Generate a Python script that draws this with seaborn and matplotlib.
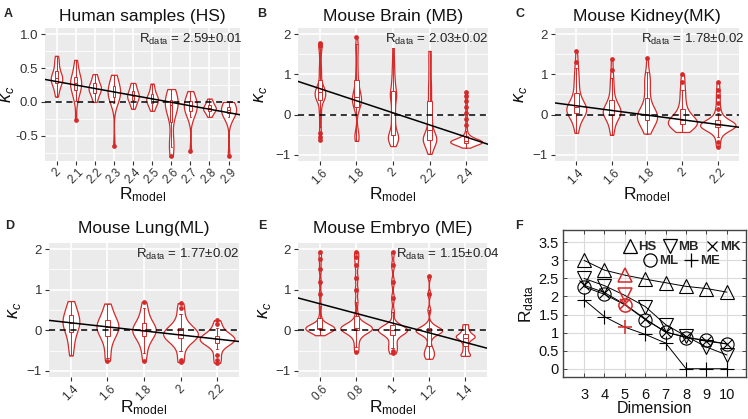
import matplotlib
matplotlib.use("Agg")
import matplotlib.pyplot as plt
from matplotlib.lines import Line2D
from matplotlib.ticker import FuncFormatter
import numpy as np
import pandas as pd
import seaborn as sns

RED = "#D42A2A"
BG = "#EBEBEB"

# ---- A: human samples (HS)
hs_rmodel = ["2", "2.1", "2.2", "2.3", "2.4", "2.5", "2.6", "2.7", "2.8", "2.9"]
hs_kappa = [
    [0.08, 0.12, 0.18, 0.22, 0.26, 0.28, 0.30, 0.31, 0.33, 0.34, 0.35, 0.36, 0.38, 0.40, 0.42, 0.45, 0.50, 0.55, 0.60, 0.64, 0.68],
    [-0.27, 0.02, 0.08, 0.14, 0.19, 0.22, 0.25, 0.27, 0.28, 0.30, 0.32, 0.35, 0.40, 0.46, 0.53, 0.62],
    [0.0, 0.05, 0.10, 0.13, 0.16, 0.18, 0.20, 0.21, 0.23, 0.25, 0.28, 0.32, 0.37, 0.41],
    [-0.65, -0.02, 0.03, 0.07, 0.10, 0.12, 0.14, 0.15, 0.17, 0.20, 0.24, 0.30, 0.36, 0.40],
    [-0.10, -0.04, 0.0, 0.03, 0.06, 0.08, 0.09, 0.11, 0.13, 0.16, 0.20, 0.25, 0.28],
    [-0.13, -0.08, -0.04, -0.01, 0.01, 0.03, 0.04, 0.06, 0.08, 0.11, 0.15, 0.21, 0.27],
    [-0.80, -0.66, -0.60, -0.56, -0.20, -0.14, -0.09, -0.06, -0.04, -0.02, 0.0, 0.02, 0.05, 0.09, 0.14, 0.19],
    [-0.73, -0.22, -0.17, -0.13, -0.10, -0.08, -0.06, -0.04, -0.02, 0.01, 0.05, 0.10, 0.16],
    [-0.22, -0.18, -0.15, -0.12, -0.11, -0.10, -0.09, -0.07, -0.05, -0.02, 0.01, 0.05],
    [-0.80, -0.22, -0.19, -0.16, -0.14, -0.13, -0.12, -0.10, -0.08, -0.05, -0.02, 0.0],
]
hs_rdata, hs_err, hs_slope = 2.59, 0.01, -0.51

# ---- B: mouse brain (MB)
mb_rmodel = ["1.6", "1.8", "2", "2.2", "2.4"]
mb_kappa = [
    [-0.62, -0.55, -0.45, -0.3, -0.15, 0.0, 0.1, 0.2,
     0.3, 0.35, 0.38, 0.4, 0.42, 0.44, 0.46, 0.48, 0.5, 0.52, 0.54, 0.56, 0.58, 0.6, 0.62, 0.64, 0.66, 0.7, 0.74, 0.78,
     0.9, 1.0, 1.1, 1.2, 1.35, 1.5, 1.62, 1.7, 1.75, 1.78],
    [-0.65, -0.6, -0.55, -0.5, -0.45, -0.3,
     0.05, 0.12, 0.18, 0.22, 0.26, 0.3, 0.32, 0.35, 0.37, 0.4, 0.42, 0.45, 0.48, 0.52, 0.56, 0.6, 0.65, 0.7, 0.78, 0.87,
     1.0, 1.1, 1.25, 1.4, 1.55, 1.68, 1.75, 1.93],
    [-0.78, -0.72, -0.68, -0.64, -0.6, -0.57, -0.55, -0.52, -0.5, -0.45, -0.38, -0.3, -0.2, -0.1, 0.0,
     0.1, 0.2, 0.3, 0.4, 0.45, 0.5, 0.55, 0.6, 0.7, 0.8, 0.9, 1.05, 1.2, 1.4, 1.65],
    [-0.97, -0.9, -0.82, -0.76, -0.72, -0.68, -0.65, -0.62, -0.6, -0.58, -0.56, -0.53, -0.5, -0.45, -0.38,
     -0.3, -0.2, -0.1, 0.0, 0.1, 0.2, 0.35, 0.5, 0.65, 0.8, 1.0, 1.2, 1.4, 1.58],
    [-0.82, -0.79, -0.77, -0.75, -0.74, -0.73, -0.72, -0.71, -0.7, -0.7, -0.69, -0.69, -0.68, -0.68, -0.67,
     -0.67, -0.67, -0.66, -0.66, -0.65, -0.65, -0.64, -0.63, -0.62, -0.61, -0.6, -0.58, -0.56, -0.53, -0.5,
     -0.4, -0.25, -0.1, 0.05, 0.2, 0.35, 0.47, 0.57],
]
mb_rdata, mb_err, mb_slope = 2.03, 0.02, -1.5

# ---- C: mouse kidney (MK)
mk_rmodel = ["1.4", "1.6", "1.8", "2", "2.2"]
mk_kappa = [
    [-0.45, -0.35, -0.25, -0.15, -0.08, -0.03, 0.0, 0.03, 0.05, 0.07, 0.09, 0.1, 0.12, 0.14, 0.15, 0.17,
     0.19, 0.22, 0.25, 0.28, 0.31, 0.36, 0.42, 0.5, 0.6, 0.7, 0.8, 0.9, 1.02, 1.15, 1.3, 1.58],
    [-0.5, -0.4, -0.3, -0.2, -0.12, -0.07, -0.03, -0.01, 0.01, 0.03, 0.05, 0.06, 0.08, 0.1, 0.12, 0.14,
     0.17, 0.2, 0.23, 0.28, 0.34, 0.42, 0.52, 0.65, 0.78, 0.9, 1.1, 1.38],
    [-0.47, -0.4, -0.33, -0.27, -0.22, -0.18, -0.15, -0.12, -0.1, -0.07, -0.05, -0.03, -0.01, 0.01, 0.04,
     0.07, 0.1, 0.14, 0.2, 0.28, 0.38, 0.5, 0.62, 0.75, 0.85, 0.95, 1.05, 1.4],
    [-0.43, -0.38, -0.34, -0.31, -0.28, -0.26, -0.24, -0.22, -0.2, -0.19, -0.17, -0.15, -0.13, -0.11,
     -0.08, -0.05, 0.0, 0.06, 0.14, 0.24, 0.35, 0.5, 0.62, 0.8, 1.0],
    [-0.8, -0.68, -0.55, -0.45, -0.38, -0.34, -0.32, -0.31, -0.3, -0.29, -0.28, -0.28, -0.27, -0.27, -0.26,
     -0.26, -0.25, -0.24, -0.23, -0.22, -0.2, -0.18, -0.15, -0.1, -0.03, 0.05, 0.15, 0.3, 0.45, 0.6, 0.8],
]
mk_rdata, mk_err, mk_slope = 1.78, 0.02, -0.58

# ---- D: mouse lung (ML)
ml_rmodel = ["1.4", "1.6", "1.8", "2", "2.2"]
ml_kappa = [
    [-0.62, -0.45, -0.3, -0.18, -0.08, 0.0, 0.06, 0.11, 0.15, 0.19, 0.22, 0.26, 0.3, 0.35, 0.41, 0.48, 0.56, 0.64, 0.72],
    [-0.75, -0.68, -0.45, -0.3, -0.2, -0.12, -0.06, -0.01, 0.03, 0.06, 0.09, 0.11, 0.14, 0.18, 0.23, 0.29, 0.36, 0.45, 0.55, 0.66],
    [-0.75, -0.55, -0.38, -0.27, -0.19, -0.13, -0.08, -0.04, -0.02, 0.0, 0.02, 0.04, 0.07, 0.11, 0.16, 0.23, 0.32, 0.42, 0.55, 0.7],
    [-0.78, -0.72, -0.5, -0.35, -0.27, -0.22, -0.18, -0.15, -0.13, -0.11, -0.1, -0.09, -0.08, -0.06, -0.04, -0.01, 0.03, 0.08, 0.15, 0.25, 0.4, 0.55, 0.67],
    [-0.8, -0.72, -0.6, -0.45, -0.36, -0.31, -0.28, -0.26, -0.24, -0.23, -0.22, -0.21, -0.2, -0.18, -0.16, -0.13, -0.09, -0.03, 0.05, 0.15, 0.25],
]
ml_rdata, ml_err, ml_slope = 1.77, 0.02, -0.5

# ---- E: mouse embryo (ME)
me_rmodel = ["0.6", "0.8", "1", "1.2", "1.4"]
me_kappa = [
    [-0.12, -0.07, -0.03, 0.0, 0.02, 0.03, 0.04, 0.04, 0.05, 0.05, 0.05, 0.06, 0.06, 0.07, 0.08, 0.09, 0.11, 0.14, 0.19,
     0.35, 0.6, 0.9, 1.2, 1.5, 1.75, 1.93],
    [-0.53, -0.4, -0.25, -0.14, -0.08, -0.03, 0.0, 0.02, 0.03, 0.04, 0.05, 0.05, 0.06, 0.07, 0.08, 0.1, 0.13, 0.17,
     0.22, 0.4, 0.7, 1.0, 1.3, 1.6, 1.8, 1.93],
    [-0.57, -0.5, -0.43, -0.36, -0.28, -0.17, -0.1, -0.06, -0.03, -0.01, 0.0, 0.0, 0.01, 0.02, 0.03,
     0.05, 0.08, 0.12, 0.18, 0.45, 0.8, 1.2, 1.6, 1.93],
    [-0.7, -0.65, -0.6, -0.55, -0.5, -0.45, -0.35, -0.2, -0.12, -0.08, -0.05, -0.03, -0.02, -0.01, 0.0, 0.01,
     0.02, 0.04, 0.07, 0.11, 0.17, 0.5, 0.9, 1.33],
    [-0.63, -0.6, -0.55, -0.48, -0.4, -0.32, -0.26, -0.22, -0.19, -0.17, -0.15, -0.13, -0.11, -0.08, -0.04,
     0.01, 0.08, 0.15],
]
me_rdata, me_err, me_slope = 1.15, 0.04, -1.19

# max violin widths (fraction of category spacing)
hs_widths = [0.6, 0.58, 0.65, 0.65, 0.61, 0.61, 0.67, 0.68, 0.67, 0.79]
mb_widths = [0.29, 0.25, 0.28, 0.37, 0.87]
mk_widths = [0.56, 0.5, 0.57, 0.82, 1.0]
ml_widths = [0.46, 0.6, 0.64, 0.95, 0.95]
me_widths = [0.8, 0.87, 0.8, 0.73, 0.52]

# ---- F: Rdata against embedding dimension (value at dimension 5 = panels A-E)
dims = [3, 4, 5, 6, 7, 8, 9, 10]
f_hs = [3.0, 2.73, hs_rdata, 2.48, 2.38, 2.28, 2.22, 2.12]
f_mb = [2.5, 2.3, mb_rdata, 1.72, 1.22, 0.9, 0.6, 0.38]
f_mk = [2.31, 2.11, mk_rdata, 1.38, 1.01, 0.88, 0.76, 0.69]
f_ml = [2.27, 2.06, ml_rdata, 1.36, 1.02, 0.86, 0.79, 0.68]
f_me = [1.91, 1.44, me_rdata, 0.95, 0.71, 0.0, 0.0, 0.0]

sns.set_theme(style="darkgrid")
plt.rcParams["font.family"] = ["Liberation Sans", "DejaVu Sans"]
plt.rcParams["mathtext.fontset"] = "custom"
plt.rcParams["mathtext.rm"] = "Liberation Sans"
plt.rcParams["mathtext.it"] = "Liberation Sans:italic"
plt.rcParams["mathtext.bf"] = "Liberation Sans:bold"

fig = plt.figure(figsize=(7.48, 4.19), dpi=100)


def violin_panel(rect, cats, kappa, widths, rdata, err, slope, title, bw, text_x, xlab_y,
                 ylab_x, ylim=(-1.15, 2.15), yticks=(-1, 0, 1, 2), minor=(-0.5, 0.5, 1.5),
                 ylabels=None, title_pad=5):
    ax = fig.add_axes(rect)
    df = pd.DataFrame({"R": np.repeat(cats, [len(k) for k in kappa]),
                       "kappa": np.concatenate(kappa)})
    ax.set_facecolor(BG)
    for cat, w in zip(cats, widths):
        sns.violinplot(data=df[df["R"] == cat], x="R", y="kappa", order=cats, ax=ax,
                       color="white", linecolor=RED, linewidth=0.9, inner=None, cut=0,
                       density_norm="width", width=w, bw_adjust=bw, saturation=1)
    sns.boxplot(data=df, x="R", y="kappa", order=cats, ax=ax, width=0.13,
                color="white", linecolor=RED, linewidth=0.7, saturation=1,
                flierprops=dict(marker="o", markersize=2.4, markerfacecolor=RED,
                                markeredgecolor=RED))
    ax.axhline(0, color="black", ls=(0, (4, 3)), lw=1.1, zorder=4)
    r0 = float(cats[0])
    step = float(cats[1]) - r0
    ax.axline(((rdata - r0) / step, 0), slope=slope * step, color="black", lw=1.1, zorder=5)
    ax.set_xlim(-0.6, len(cats) - 0.4)
    ax.set_ylim(*ylim)
    ax.set_yticks(yticks)
    if ylabels is not None:
        ax.set_yticklabels(ylabels)
    ax.set_yticks(minor, minor=True)
    ax.grid(which="major", color="white", lw=1.2)
    ax.grid(which="minor", axis="y", color="white", lw=0.6)
    ax.set_axisbelow(True)
    for s in ax.spines.values():
        s.set_visible(False)
    ax.tick_params(axis="both", which="major", bottom=True, left=True, length=3,
                   width=0.8, color="#333333", labelsize=9.5, labelcolor="#333333", pad=2)
    ax.tick_params(axis="x", labelsize=8.5, pad=1)
    ax.tick_params(which="minor", length=0)
    plt.setp(ax.get_xticklabels(), rotation=45, ha="center", va="top")
    ax.set_xlabel(r"R$_{\mathrm{model}}$", fontsize=12.5, color="#111111")
    ax.xaxis.set_label_coords(0.5, xlab_y)
    ax.xaxis.label.set_verticalalignment("center")
    ax.set_ylabel(r"$\kappa_{c}$", fontsize=13, color="#111111")
    ax.yaxis.set_label_coords(ylab_x, 0.5)
    ax.yaxis.label.set_verticalalignment("center")
    ax.set_title(title, fontsize=12.5, pad=title_pad, color="#111111")
    ax.text(text_x, 0.915, r"R$_{\mathrm{data}}$ = " + f"{rdata:.2f}±{err:.2f}",
            transform=ax.transAxes, fontsize=9.5, ha="left", va="center",
            color="#222222", clip_on=False, zorder=6)
    return ax


violin_panel([0.0602, 0.6158, 0.2607, 0.3174], hs_rmodel, hs_kappa, hs_widths, hs_rdata,
             hs_err, hs_slope, "Human samples (HS)", 0.9, 0.48, -0.25, -0.19,
             ylim=(-0.87, 1.09), yticks=(-0.5, 0, 0.5, 1.0),
             minor=(-0.75, -0.25, 0.25, 0.75), ylabels=["-0.5", "0.0", "0.5", "1.0"])
violin_panel([0.3984, 0.6158, 0.254, 0.3174], mb_rmodel, mb_kappa, mb_widths, mb_rdata,
             mb_err, mb_slope, "Mouse Brain (MB)", 0.35, 0.46, -0.25, -0.2)
violin_panel([0.742, 0.6158, 0.246, 0.3174], mk_rmodel, mk_kappa, mk_widths, mk_rdata,
             mk_err, mk_slope, "Mouse Kidney(MK)", 0.7, 0.47, -0.25, -0.185)
violin_panel([0.0655, 0.1002, 0.254, 0.3198], ml_rmodel, ml_kappa, ml_widths, ml_rdata,
             ml_err, ml_slope, "Mouse Lung(ML)", 0.9, 0.46, -0.23, -0.18, title_pad=7)
violin_panel([0.3984, 0.1002, 0.2527, 0.3198], me_rmodel, me_kappa, me_widths, me_rdata,
             me_err, me_slope, "Mouse Embryo (ME)", 0.3, 0.52, -0.23, -0.175, title_pad=7)

# ---- panel F
axf = fig.add_axes([0.7527, 0.1002, 0.245, 0.3508])
axf.set_facecolor("white")
series = [(f_hs, "^", "HS", 9.5), (f_mb, "v", "MB", 9.5), (f_mk, "x", "MK", 7),
          (f_ml, "o", "ML", 9.5), (f_me, "+", "ME", 10)]
for vals, mk, name, ms in series:
    sns.lineplot(x=dims, y=vals, ax=axf, color="black", lw=0.7, zorder=2)
    keep = [i for i, d in enumerate(dims) if d != 5]
    axf.plot([dims[i] for i in keep], [vals[i] for i in keep], ls="none", marker=mk,
             ms=ms, mfc="none", mec="black", mew=0.8, zorder=3)
    axf.plot([5], [vals[dims.index(5)]], ls="none", marker=mk, ms=ms, mfc="none",
             mec=RED, mew=1.1, zorder=4)
axf.set_xlim(1.97, 10.95)
axf.set_ylim(-0.23, 3.84)
axf.set_xticks(dims)
axf.set_yticks(np.arange(0, 3.51, 0.5))
axf.yaxis.set_major_formatter(FuncFormatter(lambda v, p: f"{v:g}"))
axf.grid(True, color="#DADADA", lw=0.8)
for s in axf.spines.values():
    s.set_visible(True)
    s.set_color("#444444")
    s.set_linewidth(1.0)
axf.tick_params(axis="both", direction="in", length=3, width=0.7, color="#444444",
                labelsize=10.5, labelcolor="#111111", top=True, right=True,
                bottom=True, left=True, pad=3)
axf.tick_params(axis="x", pad=8)
axf.set_xlabel("Dimension", fontsize=11.5, labelpad=-1, color="#111111")
axf.set_ylabel(r"R$_{\mathrm{data}}$", fontsize=12.5, labelpad=2, color="#111111")

h1 = [Line2D([], [], ls="none", marker=m, ms=ms, mfc="none", mec="black", mew=0.9)
      for _, m, _, ms in series]
names = [s[2] for s in series]
leg1 = axf.legend(h1[:3], names[:3], loc="center", bbox_to_anchor=(0.65, 0.884), ncol=3,
                  frameon=False, handlelength=1.0, handletextpad=0.15, columnspacing=0.5,
                  borderpad=0, prop={"weight": "bold", "size": 9.5})
axf.add_artist(leg1)
axf.legend(h1[3:], names[3:], loc="center", bbox_to_anchor=(0.647, 0.789), ncol=2,
           frameon=False, handlelength=1.0, handletextpad=0.15, columnspacing=0.5,
           borderpad=0, prop={"weight": "bold", "size": 9.5})

for label, x, y in [("A", 0.005, 0.98), ("B", 0.344, 0.98), ("C", 0.689, 0.98),
                    ("D", 0.007, 0.475), ("E", 0.345, 0.475), ("F", 0.689, 0.475)]:
    fig.text(x, y, label, fontsize=9, fontweight="bold", va="top", ha="left")

fig.savefig("out.png", dpi=100)
